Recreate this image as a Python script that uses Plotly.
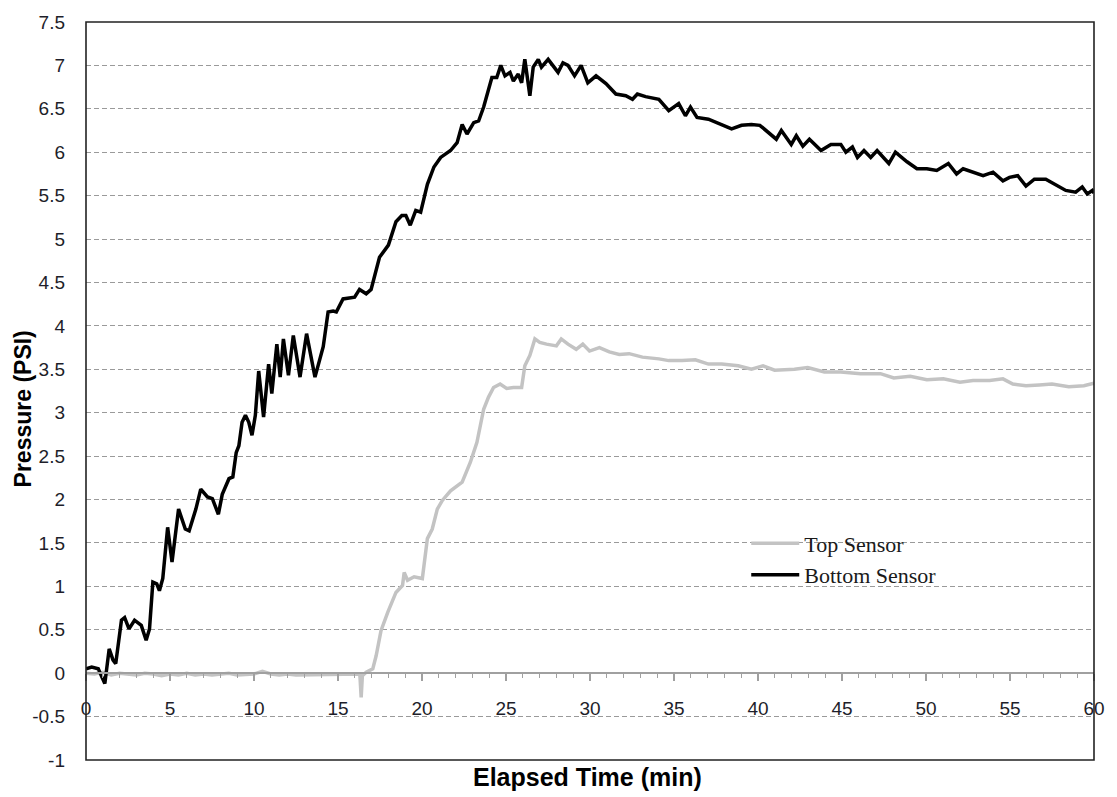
import plotly.graph_objects as go

# ---------------- data ----------------
bottom_t = [0.00, 0.34, 0.73, 1.12, 1.38, 1.61, 1.77, 2.11, 2.30, 2.56, 2.89, 3.29, 3.58, 3.78, 3.98,
            4.21, 4.37, 4.57, 4.86, 5.12, 5.51, 5.91, 6.14, 6.54, 6.83, 7.23, 7.52, 7.88, 8.11, 8.51,
            8.74, 8.94, 9.10, 9.29, 9.49, 9.69, 9.88, 10.08, 10.28, 10.57, 10.87, 11.06, 11.36, 11.56,
            11.75, 12.05, 12.34, 12.74, 13.13, 13.63, 14.12, 14.41, 14.71, 14.90, 15.30, 15.99, 16.28,
            16.68, 16.97, 17.17, 17.47, 18.00, 18.45, 18.80, 19.04, 19.30, 19.63, 19.92, 20.32, 20.71,
            21.11, 21.70, 22.09, 22.39, 22.68, 23.08, 23.37, 23.67, 24.16, 24.45, 24.69, 24.94, 25.24,
            25.44, 25.73, 25.93, 26.12, 26.42, 26.62, 26.92, 27.11, 27.51, 28.10, 28.39, 28.69, 29.08,
            29.47, 29.87, 30.36, 30.95, 31.54, 32.13, 32.53, 32.82, 33.31, 34.10, 34.69, 35.28, 35.68,
            35.98, 36.37, 37.05, 37.84, 38.43, 39.02, 39.61, 40.11, 40.60, 41.09, 41.39, 41.98, 42.28,
            42.67, 43.06, 43.75, 44.34, 44.93, 45.23, 45.62, 45.92, 46.31, 46.71, 47.09, 47.79, 48.18,
            48.87, 49.46, 50.05, 50.64, 51.33, 51.82, 52.21, 52.80, 53.40, 53.99, 54.58, 54.97, 55.46,
            55.95, 56.45, 57.13, 57.72, 58.32, 58.91, 59.30, 59.60, 59.90, 60.00]
bottom_p = [0.05, 0.07, 0.05, -0.12, 0.28, 0.15, 0.11, 0.61, 0.64, 0.51, 0.61, 0.55, 0.38, 0.51, 1.05,
            1.03, 0.95, 1.09, 1.68, 1.28, 1.89, 1.66, 1.64, 1.89, 2.12, 2.03, 2.01, 1.83, 2.06, 2.24,
            2.26, 2.54, 2.62, 2.89, 2.97, 2.89, 2.74, 2.97, 3.48, 2.95, 3.56, 3.22, 3.79, 3.41,
            3.85, 3.43, 3.89, 3.41, 3.91, 3.41, 3.76, 4.16, 4.17, 4.16, 4.31, 4.33, 4.42,
            4.37, 4.42, 4.58, 4.79, 4.93, 5.20, 5.27, 5.27, 5.16, 5.33, 5.31, 5.63, 5.83,
            5.94, 6.02, 6.11, 6.32, 6.21, 6.34, 6.36, 6.52, 6.86, 6.86, 7.00, 6.88, 6.92,
            6.82, 6.90, 6.80, 7.07, 6.65, 6.98, 7.07, 6.98, 7.07, 6.92, 7.03, 7.00, 6.88,
            7.00, 6.80, 6.88, 6.79, 6.67, 6.65, 6.61, 6.67, 6.64, 6.61, 6.48, 6.56, 6.42,
            6.52, 6.40, 6.38, 6.32, 6.27, 6.31, 6.32, 6.31, 6.23, 6.15, 6.25, 6.09, 6.19,
            6.07, 6.15, 6.02, 6.09, 6.09, 6.00, 6.06, 5.94, 6.02, 5.94, 6.02, 5.87, 6.00,
            5.89, 5.81, 5.81, 5.79, 5.87, 5.75, 5.81, 5.77, 5.73, 5.77, 5.67, 5.71, 5.73,
            5.61, 5.69, 5.69, 5.63, 5.56, 5.54, 5.60, 5.52, 5.56, 5.53]

top_t = [0.0, 0.5, 1.0, 1.5, 2.0, 2.5, 3.0, 3.5, 4.0, 4.5, 5.0, 5.5, 6.0, 6.5, 7.0, 7.5, 8.0, 8.5,
         9.0, 9.5, 10.0, 10.5, 11.0, 11.5, 12.0, 12.5, 13.0, 13.5, 14.0, 14.5, 15.0, 15.5, 16.0,
         16.30, 16.38, 16.45, 16.68, 17.07, 17.27, 17.56, 17.96, 18.45, 18.84, 18.94, 19.14, 19.53,
         20.02, 20.32, 20.61, 20.91, 21.21, 21.70, 22.39, 22.88, 23.27, 23.67, 23.96, 24.26, 24.65,
         25.04, 25.44, 25.93, 26.12, 26.42, 26.72, 27.01, 27.41, 28.00, 28.29, 28.69, 29.18, 29.57,
         29.97, 30.56, 31.15, 31.74, 32.33, 33.12, 34.10, 34.69, 35.48, 36.27, 37.05, 37.84, 38.82,
         39.61, 40.30, 40.99, 42.17, 42.96, 43.95, 44.93, 46.11, 47.29, 48.08, 49.06, 50.05, 51.03,
         52.02, 52.80, 53.79, 54.58, 55.17, 55.95, 56.74, 57.50, 58.50, 59.40, 60.00]
top_p = [0.00, -0.01, 0.01, -0.02, 0.00, -0.01, -0.02, 0.00, -0.01, -0.03, -0.01, -0.02, 0.00, -0.02,
         -0.01, -0.02, -0.01, 0.00, -0.02, -0.01, -0.01, 0.02, -0.01, -0.02, -0.01, -0.02, -0.02,
         -0.01, -0.02, -0.01, -0.02, -0.01, -0.02,
         -0.01, -0.28, -0.03, 0.01, 0.05, 0.20, 0.49, 0.70, 0.93, 1.01, 1.16, 1.07, 1.11,
         1.09, 1.55, 1.66, 1.89, 1.99, 2.10, 2.20, 2.43, 2.66, 3.04, 3.18, 3.29, 3.33,
         3.28, 3.29, 3.29, 3.54, 3.66, 3.85, 3.81, 3.79, 3.77, 3.85, 3.79, 3.73, 3.79,
         3.71, 3.75, 3.70, 3.67, 3.68, 3.64, 3.62, 3.60, 3.60, 3.61, 3.56, 3.56, 3.54,
         3.50, 3.54, 3.49, 3.50, 3.52, 3.47, 3.47, 3.45, 3.45, 3.40, 3.42, 3.38, 3.39,
         3.35, 3.37, 3.37, 3.39, 3.33, 3.31, 3.32, 3.33, 3.30, 3.31, 3.34]

x_range = [0, 60]
y_range = [-1, 7.5]
y_tickvals = [-1, -0.5, 0, 0.5, 1, 1.5, 2, 2.5, 3, 3.5, 4, 4.5, 5, 5.5, 6, 6.5, 7, 7.5]
y_ticktext = ["-1", "-0.5", "0", "0.5", "1", "1.5", "2", "2.5", "3", "3.5", "4", "4.5",
              "5", "5.5", "6", "6.5", "7", "7.5"]
x_tickvals = [0, 5, 10, 15, 20, 25, 30, 35, 40, 45, 50, 55, 60]

# ---------------- figure ----------------
fig = go.Figure()
fig.add_trace(go.Scatter(x=top_t, y=top_p, mode="lines", name="Top Sensor",
                         line=dict(color="#c3c3c3", width=3.5)))
fig.add_trace(go.Scatter(x=bottom_t, y=bottom_p, mode="lines", name="Bottom Sensor",
                         line=dict(color="#000000", width=3.5)))

zero_pos = (0 - y_range[0]) / (y_range[1] - y_range[0])

tick_font = dict(family="Liberation Sans, Arial, sans-serif", size=19, color="#1e1e2a")

fig.update_layout(
    width=1117, height=797,
    margin=dict(l=86, r=15, t=20, b=37),
    paper_bgcolor="white", plot_bgcolor="white",
    showlegend=True,
    legend=dict(x=0.655, y=0.322, xanchor="left", yanchor="top",
                bgcolor="rgba(0,0,0,0)", borderwidth=0,
                font=dict(family="Liberation Serif, Times New Roman, serif", size=22, color="#1a1a1a"),
                tracegroupgap=0, itemwidth=48),
    xaxis=dict(range=x_range, anchor="free", position=zero_pos,
               showline=True, linecolor="#a0a0a0", linewidth=2,
               showgrid=False, zeroline=False,
               tickmode="array", tickvals=x_tickvals, ticktext=[str(v) for v in x_tickvals],
               ticks="outside", ticklen=7, tickwidth=1.5, tickcolor="#a0a0a0",
               minor=dict(dtick=1, ticks="outside", ticklen=4, tickwidth=1.2, tickcolor="#a0a0a0", showgrid=False),
               ticklabelstandoff=11,
               tickfont=tick_font),
    yaxis=dict(range=y_range, tickmode="array", tickvals=y_tickvals, ticktext=y_ticktext,
               showgrid=True, gridcolor="#9a9a9a", gridwidth=1.3, griddash="5px,3px",
               zeroline=False, showline=False, ticks="", ticklabelstandoff=20,
               tickfont=tick_font),
    shapes=[dict(type="rect", xref="paper", yref="paper", x0=0, x1=1, y0=0, y1=1,
                 line=dict(color="#222222", width=1.6), layer="above")],
    annotations=[
        dict(text="<b>Pressure (PSI)</b>", xref="paper", yref="paper",
             x=(22 - 86) / 1016, y=(760 - 408) / 740, textangle=-90, showarrow=False,
             xanchor="center", yanchor="middle",
             font=dict(family="Liberation Sans, Arial, sans-serif", size=23, color="#000000")),
        dict(text="<b>Elapsed Time (min)</b>", xref="paper", yref="paper",
             x=(591 - 86) / 1016, y=(760 - 777) / 740, showarrow=False,
             xanchor="center", yanchor="middle",
             font=dict(family="Liberation Sans, Arial, sans-serif", size=25, color="#000000")),
    ],
)

fig.write_html("out.html")
